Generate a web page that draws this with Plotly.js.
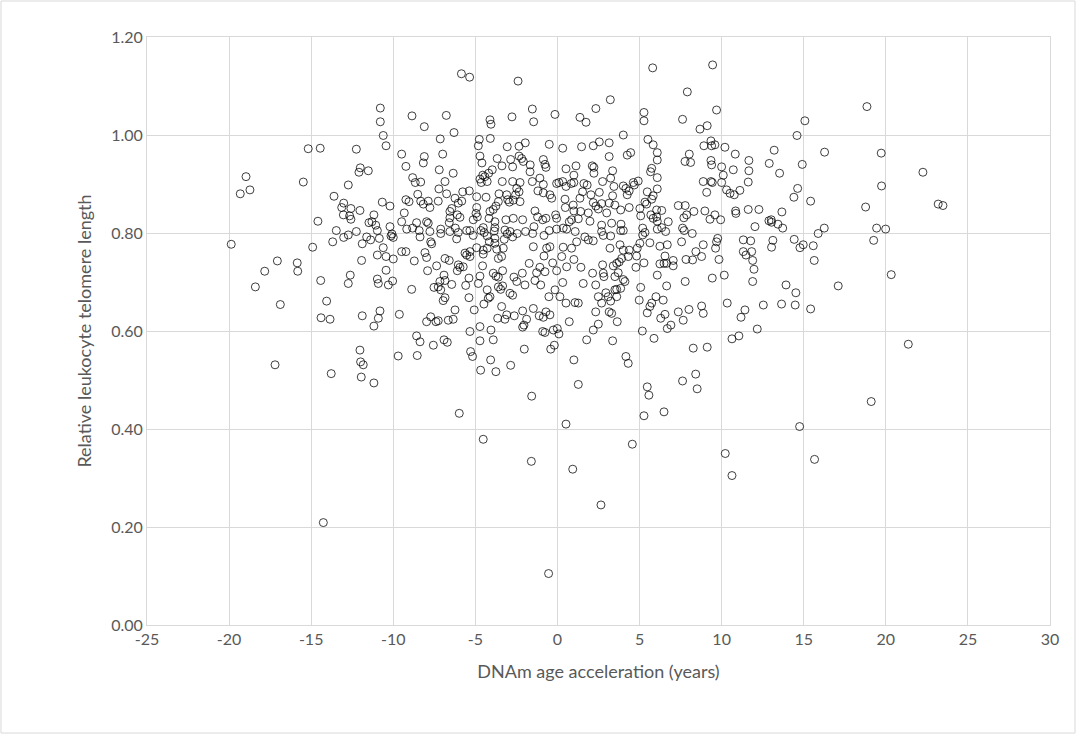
<!DOCTYPE html>
<html><head><meta charset="utf-8">
<script src="https://cdn.plot.ly/plotly-3.0.1.min.js"></script>
<style>html,body{margin:0;padding:0;background:#fff}#chart{width:1082px;height:738px}</style>
</head><body><div id="chart"></div>
<script>
// DNAm age acceleration (years)
const dnamAgeAccel = [
-15.18,-14.45,-12.25,-18.97,-18.73,-19.32,-15.48,-12.01,-12.09,-11.52,-12.74,-13.61,-13.02,-13.14,-12.58,-12.03,-13.04,-12.66,-12.58,-11.48,-14.59,-13.47,-12.25,-12.74,-13.02,-11.62,-13.69,-11.89,-19.87,-14.91,
-10.79,-10.79,-10.61,-10.44,-8.86,-8.11,-6.77,-6.30,-7.14,-9.49,
-8.11,-8.17,-6.99,-9.23,-7.20,-6.35,-8.82,-8.66,-8.33,-6.85,
-7.22,-8.51,-9.23,-9.04,-8.33,-8.17,-7.87,-7.26,-6.75,-6.24,
-5.77,-5.37,-5.83,-6.04,-10.67,-10.20,-7.77,-6.44,-6.55,-9.33,
-11.18,-6.10,-6.55,-5.94,-9.49,-8.58,-7.97,-7.87,-6.59,-5.13,
-11.30,-11.07,-10.97,-10.20,-9.18,-8.82,-8.42,-7.77,-7.11,-6.55,
-6.22,-6.04,-5.53,-5.33,-5.13,-10.08,-10.00,-10.14,-10.85,-8.37,
-7.72,-7.66,-7.11,-6.14,-10.61,-11.38,-9.49,-9.23,-8.07,-5.33,
-4.92,
-4.11,-4.05,-2.77,-1.53,-1.45,-0.15,-4.76,-4.09,-4.82,-4.72,
-4.60,-3.67,-3.38,-3.06,-2.34,-1.96,-0.50,0.32,-2.85,-2.34,
-2.18,-2.08,-2.73,-1.66,-0.86,-0.76,-0.70,0.52,-3.97,-4.19,
-4.72,-4.64,-4.42,-4.28,-4.55,-3.36,-2.73,-2.28,-1.67,-1.07,
-1.53,-0.86,-0.05,0.09,0.32,0.52,-2.48,-2.34,-1.19,-0.86,
-0.35,-0.46,-3.56,-3.09,-2.55,-2.69,-3.03,-2.93,-2.28,-3.60,
-4.35,-4.92,0.46,-3.75,-3.91,-4.11,-4.92,-4.96,-4.88,-4.17,
-3.81,-3.14,-2.69,-2.12,-1.37,-1.21,-0.90,-0.70,-0.11,-0.05,
0.48,0.72,-3.81,-3.85,-3.81,-3.81,-4.52,-4.66,-4.46,-3.20,
-3.06,-2.89,-2.73,-2.45,-1.94,-1.43,-1.51,-0.50,-0.05,0.35,
0.56,-0.82,-4.28,-4.15,-3.24,-4.52,-4.28,-3.70,-3.30,-1.47,
-0.66,-0.46,0.35,-5.63,
7.91,3.22,2.34,1.37,1.74,5.27,5.27,7.62,9.69,8.68,
9.12,4.01,5.51,5.83,6.08,6.08,1.47,2.18,2.55,3.15,
3.15,4.25,4.46,8.03,7.77,8.11,8.92,9.35,9.39,9.59,
10.20,10.83,11.66,12.90,9.35,9.39,10.00,10.71,11.66,10.10,
8.88,9.35,9.43,10.00,11.62,9.09,10.30,10.51,10.77,11.11,
5.74,5.67,6.08,4.92,4.62,4.68,6.08,5.47,5.83,1.13,
2.12,2.22,2.22,3.36,3.24,1.00,1.00,0.84,1.61,1.81,
2.75,3.44,4.01,4.17,4.37,4.25,1.53,2.04,2.55,3.36,
0.96,1.37,2.18,2.34,2.49,2.69,3.15,3.50,3.85,4.37,
5.33,5.43,5.02,5.74,6.04,6.35,7.36,7.78,8.31,7.87,
7.70,8.98,9.59,9.29,9.94,10.85,10.87,11.62,12.27,12.88,
12.03,1.00,1.41,1.88,3.00,0.86,1.27,1.98,2.69,3.30,
3.87,5.07,5.69,5.83,6.04,6.08,6.75,6.35,6.59,6.08,
5.19,5.33,5.19,7.62,7.72,8.21,1.08,1.67,1.88,2.18,
2.69,2.79,3.24,3.85,4.01,1.17,0.86,3.20,3.81,4.01,
4.37,4.86,5.02,5.63,6.24,6.69,7.56,8.43,8.88,9.76,
9.69,9.63,11.32,11.77,11.32,11.83,
18.85,15.07,14.59,13.20,16.27,19.72,14.91,13.53,22.26,14.63,
14.40,19.74,15.42,18.77,23.19,23.48,13.67,13.02,13.04,13.43,
13.72,16.25,15.88,19.44,19.99,19.26,13.12,13.04,14.42,14.97,
14.77,15.58,
-17.06,-15.85,-15.82,-17.83,-18.40,-16.88,-14.42,-11.93,-12.62,-12.74,
-14.06,-14.40,-13.85,-11.89,-12.03,-11.99,-11.83,-11.95,-17.20,-13.78,
-10.97,-10.44,-10.00,-8.72,-7.97,-6.85,-6.59,-6.04,-5.94,-6.10,
-5.74,-5.53,-5.33,-4.52,-3.60,-3.40,-4.56,-3.34,-3.91,-3.75,
-3.60,-4.72,-4.82,-5.39,-5.59,-6.44,-6.91,-6.85,-7.16,-7.26,
-7.52,-7.91,-7.36,-7.11,-6.85,-6.96,-5.39,-5.07,-6.24,-6.35,
-6.65,-7.26,-7.40,-7.97,-7.72,-8.88,-10.97,-10.91,-10.30,-10.44,
-10.04,-10.81,-10.91,-11.18,-9.63,-8.58,-8.37,-7.56,-6.91,-6.71,
-9.70,-8.54,-5.33,-5.29,-5.17,-4.72,-4.72,-4.05,-3.91,-4.07,
-4.68,-3.75,-2.85,-11.18,-5.98,-1.57,-1.72,-1.07,-1.27,-0.76,
-0.29,-0.82,-0.05,0.26,0.56,0.32,-2.65,-2.48,-2.14,-1.98,
-1.37,-1.02,-4.28,-4.11,-4.21,-4.48,-3.60,-3.46,-3.34,-2.89,
-2.73,-3.40,-3.64,-3.20,-3.09,-2.63,-2.12,-1.88,-2.04,-2.12,
-1.47,-1.11,-0.86,-0.70,-0.46,-0.52,-0.15,0.15,0.52,0.72,
-0.90,-0.76,-0.25,-0.01,0.09,-0.19,-0.41,-2.02,
1.00,1.43,2.14,2.75,2.79,2.83,3.40,3.61,3.76,3.91,
3.50,3.70,4.01,4.11,4.31,4.82,4.78,5.27,6.08,6.24,
6.49,6.65,7.05,7.05,6.55,7.83,8.23,8.78,9.84,7.78,
9.43,10.16,11.48,11.89,11.97,11.89,1.57,2.33,1.07,1.27,
2.33,2.49,2.69,2.95,3.09,3.24,3.50,3.61,3.85,3.61,
3.30,3.15,3.64,2.49,2.18,1.78,3.36,4.17,4.31,1.00,
1.27,5.07,4.98,6.65,6.00,5.74,6.44,5.63,5.47,6.55,
6.29,6.91,6.69,7.36,7.66,8.01,8.78,8.88,5.17,5.88,
5.47,5.57,5.27,6.49,7.62,8.42,8.51,8.27,9.12,10.34,
11.42,11.18,12.54,12.17,11.05,10.63,
15.64,20.33,13.92,14.52,17.10,13.65,14.48,15.42,21.37,19.11,
-4.52,-1.59,0.52,-0.54,4.56,0.93,2.65,10.22,10.63,14.75,15.66,-14.26,
-5.85,-5.35,-2.40,5.80,9.45
];
// Relative leukocyte telomere length
const telomereLength = [
0.972,0.973,0.971,0.915,0.888,0.880,0.904,0.933,0.924,0.927,0.898,0.875,0.861,0.852,0.850,0.846,0.837,0.835,0.828,0.821,0.824,0.805,0.803,0.796,0.791,0.792,0.782,0.778,0.777,0.771,
1.055,1.027,0.999,0.978,1.039,1.017,1.040,1.005,0.992,0.961,
0.956,0.943,0.961,0.936,0.929,0.922,0.913,0.903,0.904,0.905,
0.890,0.879,0.868,0.864,0.865,0.859,0.865,0.865,0.880,0.871,
0.884,0.886,0.865,0.861,0.863,0.855,0.852,0.850,0.844,0.841,
0.837,0.837,0.831,0.832,0.823,0.821,0.823,0.820,0.821,0.827,
0.823,0.816,0.805,0.813,0.808,0.810,0.805,0.803,0.808,0.803,
0.810,0.801,0.805,0.805,0.795,0.798,0.791,0.794,0.789,0.792,
0.782,0.778,0.799,0.788,0.770,0.786,0.762,0.762,0.760,0.762,
0.770,
1.031,1.022,1.037,1.053,1.027,1.042,0.991,0.993,0.978,0.957,
0.943,0.952,0.937,0.976,0.977,0.984,0.981,0.973,0.950,0.957,
0.952,0.946,0.935,0.939,0.950,0.940,0.934,0.931,0.929,0.922,
0.910,0.903,0.915,0.905,0.918,0.905,0.905,0.903,0.925,0.912,
0.905,0.899,0.901,0.903,0.905,0.895,0.891,0.884,0.886,0.882,
0.871,0.878,0.880,0.878,0.878,0.867,0.868,0.863,0.864,0.864,
0.873,0.874,0.869,0.855,0.848,0.844,0.852,0.840,0.833,0.830,
0.823,0.827,0.830,0.827,0.845,0.833,0.827,0.830,0.837,0.830,
0.852,0.823,0.811,0.804,0.789,0.779,0.811,0.805,0.801,0.806,
0.798,0.803,0.792,0.799,0.803,0.813,0.799,0.805,0.808,0.810,
0.808,0.795,0.794,0.782,0.787,0.765,0.769,0.767,0.769,0.772,
0.769,0.772,0.771,0.759,
1.088,1.072,1.054,1.036,1.026,1.046,1.029,1.032,1.051,1.012,
1.019,1.000,0.991,0.980,0.964,0.949,0.976,0.978,0.986,0.984,
0.956,0.959,0.964,0.961,0.946,0.944,0.978,0.988,0.978,0.980,
0.975,0.961,0.948,0.942,0.948,0.939,0.935,0.929,0.927,0.918,
0.905,0.905,0.903,0.903,0.904,0.883,0.888,0.881,0.878,0.887,
0.932,0.925,0.913,0.906,0.903,0.898,0.890,0.884,0.876,0.937,
0.937,0.934,0.922,0.927,0.912,0.918,0.903,0.901,0.901,0.898,
0.905,0.895,0.896,0.891,0.886,0.878,0.884,0.878,0.883,0.876,
0.857,0.871,0.862,0.855,0.849,0.860,0.861,0.857,0.847,0.852,
0.863,0.859,0.850,0.869,0.847,0.846,0.856,0.856,0.844,0.837,
0.831,0.845,0.837,0.828,0.827,0.845,0.840,0.848,0.848,0.825,
0.813,0.845,0.844,0.841,0.841,0.827,0.829,0.824,0.816,0.820,
0.818,0.835,0.837,0.830,0.833,0.824,0.823,0.811,0.803,0.808,
0.810,0.801,0.796,0.810,0.805,0.799,0.803,0.792,0.786,0.784,
0.803,0.795,0.794,0.805,0.805,0.782,0.769,0.769,0.776,0.765,
0.765,0.769,0.779,0.780,0.773,0.776,0.782,0.762,0.776,0.789,
0.782,0.769,0.786,0.784,0.762,0.762,
1.058,1.029,0.999,0.969,0.965,0.963,0.940,0.922,0.924,0.891,
0.873,0.896,0.865,0.853,0.859,0.856,0.843,0.827,0.822,0.818,
0.810,0.810,0.799,0.810,0.808,0.785,0.785,0.771,0.787,0.776,
0.770,0.774,
0.743,0.739,0.722,0.722,0.690,0.654,0.703,0.744,0.714,0.697,
0.661,0.627,0.624,0.631,0.561,0.537,0.531,0.506,0.531,0.513,
0.755,0.752,0.747,0.743,0.750,0.748,0.744,0.735,0.730,0.723,
0.731,0.755,0.752,0.757,0.748,0.752,0.733,0.723,0.718,0.712,
0.710,0.712,0.697,0.708,0.693,0.695,0.714,0.703,0.701,0.690,
0.689,0.723,0.733,0.684,0.668,0.662,0.668,0.643,0.643,0.624,
0.622,0.621,0.619,0.619,0.629,0.685,0.706,0.697,0.694,0.724,
0.702,0.641,0.626,0.610,0.634,0.590,0.578,0.571,0.582,0.577,
0.549,0.550,0.599,0.558,0.548,0.580,0.609,0.602,0.582,0.541,
0.520,0.517,0.530,0.494,0.432,0.467,0.738,0.730,0.719,0.721,
0.739,0.753,0.723,0.752,0.731,0.699,0.710,0.701,0.718,0.694,
0.703,0.694,0.684,0.670,0.667,0.655,0.690,0.685,0.692,0.677,
0.673,0.650,0.626,0.624,0.633,0.631,0.641,0.624,0.612,0.608,
0.646,0.631,0.628,0.639,0.633,0.670,0.684,0.670,0.657,0.619,
0.599,0.597,0.602,0.605,0.594,0.571,0.563,0.563,
0.746,0.730,0.718,0.735,0.718,0.711,0.733,0.738,0.741,0.748,
0.711,0.719,0.705,0.701,0.752,0.753,0.730,0.739,0.714,0.737,
0.738,0.738,0.733,0.744,0.753,0.746,0.745,0.752,0.746,0.701,
0.708,0.714,0.755,0.744,0.726,0.701,0.697,0.694,0.658,0.657,
0.639,0.670,0.657,0.678,0.670,0.661,0.684,0.685,0.687,0.670,
0.636,0.639,0.619,0.614,0.602,0.582,0.580,0.548,0.534,0.541,
0.491,0.689,0.663,0.692,0.670,0.657,0.663,0.650,0.637,0.634,
0.626,0.612,0.605,0.639,0.622,0.644,0.651,0.636,0.600,0.585,
0.486,0.469,0.427,0.435,0.498,0.512,0.482,0.565,0.567,0.657,
0.643,0.628,0.653,0.604,0.590,0.584,
0.744,0.715,0.694,0.678,0.692,0.655,0.653,0.645,0.573,0.456,
0.379,0.334,0.410,0.105,0.369,0.318,0.245,0.350,0.305,0.405,0.338,0.209,
1.125,1.118,1.110,1.137,1.143
];
const xTickVals = [-25,-20,-15,-10,-5,0,5,10,15,20,25,30];
const xTickText = ['-25','-20','-15','-10','-5','0','5','10','15','20','25','30'];
const yTickVals = [0,0.2,0.4,0.6,0.8,1.0,1.2];
const yTickText = ['0.00','0.20','0.40','0.60','0.80','1.00','1.20'];
const xTitle = 'DNAm age acceleration (years)';
const yTitle = 'Relative leukocyte telomere length';

const FONT = 'Lato, "Open Sans", sans-serif';
const trace = {
  type: 'scatter', mode: 'markers',
  x: dnamAgeAccel, y: telomereLength,
  marker: {symbol: 'circle-open', size: 8, color: '#000000', line: {width: 0.75}},
  hoverinfo: 'x+y'
};
const axisCommon = {
  showgrid: true, gridcolor: '#d9d9d9', gridwidth: 1,
  zeroline: false, showline: true, linecolor: '#d9d9d9', linewidth: 1, mirror: true,
  ticks: '', tickfont: {family: FONT, size: 16, color: '#595959'},
  tickmode: 'array', fixedrange: true
};
const layout = {
  width: 1082, height: 738,
  margin: {l: 147, r: 32, t: 37, b: 113},
  paper_bgcolor: '#ffffff', plot_bgcolor: '#ffffff',
  showlegend: false,
  xaxis: Object.assign({}, axisCommon, {
    range: [-25, 30], tickvals: xTickVals, ticktext: xTickText,
    title: {text: xTitle, font: {family: FONT, size: 18, color: '#595959'}, standoff: 18}
  }),
  yaxis: Object.assign({}, axisCommon, {
    range: [0, 1.2], tickvals: yTickVals, ticktext: yTickText,
    title: {text: yTitle, font: {family: FONT, size: 18, color: '#595959'}, standoff: 14}
  }),
  shapes: [{type: 'rect', xref: 'paper', yref: 'paper',
    x0: -0.1617, x1: 1.0277, y0: -0.1837, y1: 1.0612,
    line: {color: '#d9d9d9', width: 1}, fillcolor: 'rgba(0,0,0,0)', layer: 'below'}]
};
Plotly.newPlot('chart', [trace], layout, {displayModeBar: false, staticPlot: true});
</script>
</body></html>
